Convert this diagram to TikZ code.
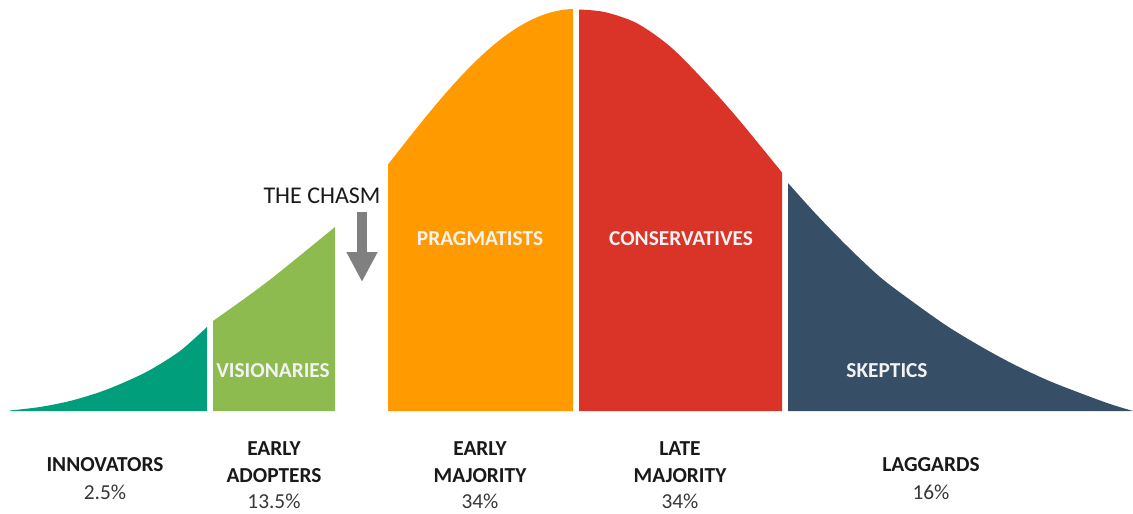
\documentclass[tikz,border=0pt]{standalone}
\usepackage{fontspec}
\setmainfont{Carlito}
\usetikzlibrary{arrows.meta}
\definecolor{innoteal}{RGB}{0,158,122}
\definecolor{visgreen}{RGB}{141,187,80}
\definecolor{pragorange}{RGB}{255,155,0}
\definecolor{consred}{RGB}{218,52,40}
\definecolor{skepnavy}{RGB}{54,79,103}
\definecolor{arrowgray}{RGB}{128,128,128}
\definecolor{labelblack}{RGB}{25,25,25}
\definecolor{pctgray}{RGB}{55,55,55}
\definecolor{offwhite}{RGB}{242,242,242}
\begin{document}
\begin{tikzpicture}[x=0.75pt,y=-0.75pt,
  inlabel/.style={font=\fontsize{16}{18}\selectfont\bfseries, text=offwhite, inner sep=0pt, anchor=base},
  catlabel/.style={font=\fontsize{16}{18}\selectfont\bfseries, text=labelblack, inner sep=0pt, anchor=base},
  pctlabel/.style={font=\fontsize{16}{18}\selectfont, text=pctgray, inner sep=0pt, anchor=base},
  chasmlabel/.style={font=\fontsize{18}{20}\selectfont, text=labelblack, inner sep=0pt, anchor=base},
  chasmarrow/.style={draw=arrowgray, line width=7.5pt, -{Triangle[length=22.5pt,width=21.75pt]}}]
\useasboundingbox (0,0) rectangle (1133,514);
% segments of the curve
\fill[innoteal] (10,411) -- plot[smooth] coordinates {(10,410.5) (40,407) (70,401) (100,392) (125,382) (150,370) (180,351) (207,327)} -- (207,411) -- cycle;
\fill[visgreen] (213,411) -- plot[smooth] coordinates {(213,321) (267,282) (335,227)} -- (335,411) -- cycle;
\fill[pragorange] (388,411) -- plot[domain=388:573,samples=60] (\x,{411-402*exp(-((\x-576)/190)^2/2)}) -- (573,411) -- cycle;
\fill[consred] (579,411) -- plot[smooth] coordinates {(579,9.5) (605,12.1) (637,23.3) (670,46.4) (703,79.4) (737,117.5) (782,172.5)} -- (782,411) -- cycle;
\fill[skepnavy] (788,411) -- plot[smooth] coordinates {(788,183) (815,213) (847,246) (880,277) (913,302) (947,326) (980,346) (1013,364) (1047,380) (1080,393) (1110,404) (1133,411)} -- cycle;
% inner labels
\node[inlabel] (vis) at (273,377) {VISIONARIES};
\node[inlabel] (prag) at (480,245) {PRAGMATISTS};
\node[inlabel] (cons) at (681,245) {CONSERVATIVES};
\node[inlabel] (skep) at (887,377) {SKEPTICS};
% chasm
\node[chasmlabel] (chasm) at (322,203) {THE CHASM};
\coordinate (chasmtop) at (362,212);
\coordinate (chasmtip) at (362,282);
\draw[chasmarrow] (chasmtop) -- (chasmtip);
% bottom labels
\node[catlabel] (inno) at (105,471) {INNOVATORS};
\node[pctlabel] (innop) at (105,499) {2.5\%};
\node[catlabel] (ea1) at (274,455) {EARLY};
\node[catlabel] (ea2) at (274,482) {ADOPTERS};
\node[pctlabel] (eap) at (274,508) {13.5\%};
\node[catlabel] (em1) at (480,455) {EARLY};
\node[catlabel] (em2) at (480,482) {MAJORITY};
\node[pctlabel] (emp) at (480,508) {34\%};
\node[catlabel] (lm1) at (680,455) {LATE};
\node[catlabel] (lm2) at (680,482) {MAJORITY};
\node[pctlabel] (lmp) at (680,508) {34\%};
\node[catlabel] (lag) at (931,471) {LAGGARDS};
\node[pctlabel] (lagp) at (931,499) {16\%};
\end{tikzpicture}
\end{document}
